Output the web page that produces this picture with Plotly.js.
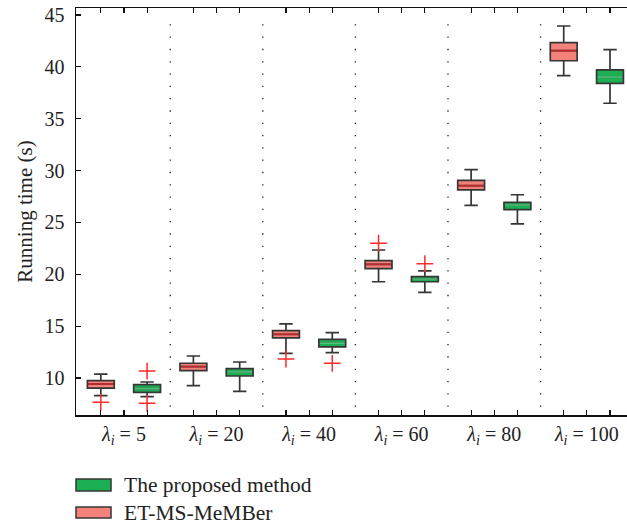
<!DOCTYPE html>
<html>
<head>
<meta charset="utf-8">
<script src="https://cdn.plot.ly/plotly-3.0.1.min.js"></script>
<style>
html,body{margin:0;padding:0;overflow:hidden;background:#fff;}
#chart{width:640px;height:525px;}
</style>
</head>
<body>
<div id="chart"></div>
<script>
// Categories (lambda_i values)
const lambdaValues = [5, 20, 40, 60, 80, 100];

// ET-MS-MeMBer (red) box statistics
const etLower  = [8.3, 9.26, 12.38, 19.28, 26.65, 39.15];
const etQ1     = [9.03, 10.7, 13.86, 20.54, 28.13, 40.59];
const etMedian = [9.42, 11.1, 14.21, 20.96, 28.54, 41.56];
const etQ3     = [9.74, 11.42, 14.56, 21.31, 29.06, 42.33];
const etUpper  = [10.38, 12.12, 15.21, 22.34, 30.09, 43.94];
// ET-MS-MeMBer outliers: group index and value
const etOutGroup = [1, 3, 4];
const etOutValue = [7.65, 11.83, 22.99];

// The proposed method (green) box statistics
const prLower  = [8.2, 8.71, 12.44, 18.26, 24.85, 36.49];
const prQ1     = [8.62, 10.19, 12.99, 19.28, 26.23, 38.41];
const prMedian = [8.97, 10.58, 13.35, 19.54, 26.68, 39.02];
const prQ3     = [9.35, 10.9, 13.73, 19.77, 26.94, 39.7];
const prUpper  = [9.61, 11.54, 14.37, 20.32, 27.67, 41.66];
// Proposed method outliers
const prOutGroup = [1, 1, 3, 4];
const prOutValue = [10.67, 7.56, 11.41, 21.02];

const groups = lambdaValues.map((_, i) => i + 1);
const off = 0.25;
const boxW = 0.29;
const redPos = groups.map(g => g - off);
const greenPos = groups.map(g => g + off);

const redFill = '#f4827a', redMed = '#c0282d';
const greenFill = '#1daf54', greenMed = '#4fc77c';
const edge = '#363636';
const outColor = '#ff2a2a';

function medianTrace(pos, med, color) {
  const xs = [], ys = [];
  pos.forEach((p, i) => { xs.push(p - boxW/2 + 0.01, p + boxW/2 - 0.01, null); ys.push(med[i], med[i], null); });
  return {type:'scatter', mode:'lines', x:xs, y:ys, line:{color:color, width:1.6}, hoverinfo:'skip', showlegend:false};
}

const traces = [
  {type:'box', name:'ET-MS-MeMBer', x:redPos, q1:etQ1, median:etMedian, q3:etQ3,
   lowerfence:etLower, upperfence:etUpper, width:boxW, whiskerwidth:0.5,
   fillcolor:redFill, line:{color:edge, width:1.7}, boxpoints:false, showlegend:false},
  {type:'box', name:'The proposed method', x:greenPos, q1:prQ1, median:prMedian, q3:prQ3,
   lowerfence:prLower, upperfence:prUpper, width:boxW, whiskerwidth:0.5,
   fillcolor:greenFill, line:{color:edge, width:1.7}, boxpoints:false, showlegend:false},
  medianTrace(redPos, etMedian, redMed),
  medianTrace(greenPos, prMedian, greenMed),
  {type:'scatter', mode:'markers', x:etOutGroup.map(g => g - off), y:etOutValue,
   marker:{symbol:'cross-thin-open', size:12, color:outColor, line:{color:outColor, width:1.5}}, showlegend:false},
  {type:'scatter', mode:'markers', x:prOutGroup.map(g => g + off), y:prOutValue,
   marker:{symbol:'cross-thin-open', size:12, color:outColor, line:{color:outColor, width:1.5}}, showlegend:false}
];

const ticktext = lambdaValues.map(v => '<i>λ</i><sub><i>i</i></sub> = ' + v);
const minorVals = [];
groups.forEach(g => { minorVals.push(g - off, g + off); });

const shapes = [];
for (let i = 1; i < groups.length; i++) {
  shapes.push({type:'line', xref:'x', yref:'paper', x0:i + 0.5, x1:i + 0.5, y0:0.02, y1:0.985,
    line:{color:'#222', width:1.3, dash:'1.3px,11px'}});
}
// Manual legend boxes
shapes.push({type:'rect', xref:'paper', yref:'paper', x0:0, x1:35/559, y0:-(479-415)/407, y1:-(491-415)/407,
  fillcolor:greenFill, line:{color:edge, width:1.5}});
shapes.push({type:'rect', xref:'paper', yref:'paper', x0:0, x1:35/559, y0:-(507-415)/407, y1:-(518-415)/407,
  fillcolor:redFill, line:{color:edge, width:1.5}});

const font = 'Liberation Serif, Times New Roman, serif';
const annotations = [
  {xref:'paper', yref:'paper', x:46/559, y:-(485-415)/407, xanchor:'left', yanchor:'middle',
   text:'The proposed method', showarrow:false, font:{family:font, size:21.5, color:'#222'}},
  {xref:'paper', yref:'paper', x:46/559, y:-(512.5-415)/407, xanchor:'left', yanchor:'middle',
   text:'ET-MS-MeMBer', showarrow:false, font:{family:font, size:21.5, color:'#222'}}
];

const layout = {
  width:640, height:525,
  margin:{l:76, r:5, t:8, b:110},
  paper_bgcolor:'#fff', plot_bgcolor:'#fff',
  font:{family:font, color:'#222', size:19},
  showlegend:false,
  boxmode:'overlay',
  xaxis:{range:[0.482, 6.52], tickmode:'array', tickvals:groups, ticktext:ticktext, ticks:'inside', ticklen:5,
    tickcolor:'#111', tickwidth:1.2, showline:true, linecolor:'#111', linewidth:1.5, mirror:'ticks',
    showgrid:false, zeroline:false, tickfont:{size:20},
    minor:{tickmode:'array', tickvals:minorVals, ticks:'inside', ticklen:5, tickwidth:1.2, tickcolor:'#111', showgrid:false}},
  yaxis:{range:[6.43, 45.675], tickvals:[10,15,20,25,30,35,40,45], ticks:'inside', ticklen:5,
    tickcolor:'#111', tickwidth:1.2, showline:true, linecolor:'#111', linewidth:1.5, mirror:true,
    showgrid:false, zeroline:false, tickfont:{size:20}, ticklabelstandoff:6,
    title:{text:'Running time (s)', font:{size:21}, standoff:6}},
  shapes:shapes,
  annotations:annotations
};

Plotly.newPlot('chart', traces, layout, {displayModeBar:false, staticPlot:true});
</script>
</body>
</html>
